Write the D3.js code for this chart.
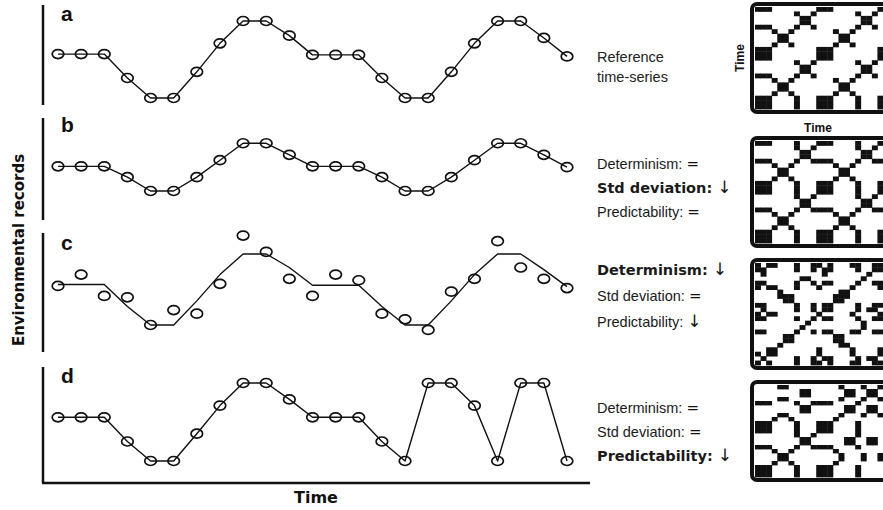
<!DOCTYPE html>
<html>
<head>
<meta charset="utf-8">
<script src="https://cdn.jsdelivr.net/npm/d3@7"></script>
<style>
  body { margin: 0; background: #fff; }
  svg { display: block; }
</style>
</head>
<body>
<div id="chart"></div>
<script>
// values, in arbitrary "record" units (low plateau = 0, high plateau = 10)
const steps = d3.range(23);
const seriesA = [5.7, 5.7, 5.7, 2.6, 0, 0, 3.4, 7.1, 10, 10, 8.1, 5.6, 5.6, 5.6, 2.6, 0, 0, 3.4, 7.1, 10, 10, 7.8, 5.4];
const seriesB = [3.2, 3.2, 3.2, 1.8, 0, 0, 1.8, 4.0, 6.2, 6.2, 4.7, 3.2, 3.2, 3.2, 1.8, 0, 0, 1.8, 4.0, 6.2, 6.2, 4.7, 3.1];
const seriesC = [5.5, 7.1, 4.1, 3.9, 0, 2.1, 1.6, 5.8, 12.6, 10.3, 6.5, 4.1, 7.1, 6.3, 1.6, 0.8, -0.7, 4.7, 6.5, 11.8, 8.1, 6.5, 5.2];
const seriesD = [5.6, 5.6, 5.6, 2.5, 0, 0, 3.5, 7.1, 10, 10, 7.9, 5.6, 5.6, 5.6, 2.5, 0, 10, 10, 7.1, 0, 10, 10, 0];

const panelLabels = ["a", "b", "c", "d"];
const measureNames = ["Determinism:", "Std deviation:", "Predictability:"];
const changesB = ["=", "\u2193", "="];
const changesC = ["\u2193", "=", "\u2193"];
const changesD = ["=", "=", "\u2193"];
const referenceNote = ["Reference", "time-series"];

const width = 883;
const height = 510;
const REG = "'Liberation Sans', Arial, sans-serif";
const HEAVY = "'DejaVu Sans', 'Liberation Sans', sans-serif";

const svg = d3.select("#chart").append("svg")
  .attr("width", width)
  .attr("height", height);

const x = d3.scaleLinear().domain([0, 22]).range([58, 567]);

// layout of the four rows (pixels), the data stays in the arrays above
const panels = [
  { label: panelLabels[0], values: seriesA, line: seriesA, y0: 98, y10: 21, axis: [5, 105], labelY: 21, rp: [4, 112] },
  { label: panelLabels[1], values: seriesB, line: seriesB, y0: 191, y10: 114, axis: [118, 220], labelY: 132, rp: [138, 246] },
  { label: panelLabels[2], values: seriesC, line: seriesA, y0: 325, y10: 254, axis: [233, 352], labelY: 250, rp: [260, 368] },
  { label: panelLabels[3], values: seriesD, line: seriesD, y0: 461, y10: 383, axis: [367, 483], labelY: 383, rp: [382, 480] }
];

const defs = svg.append("defs");

panels.forEach((p, k) => {
  const y = d3.scaleLinear().domain([0, 10]).range([p.y0, p.y10]);
  const g = svg.append("g");

  // left axis segment
  g.append("line")
    .attr("x1", 43).attr("x2", 43)
    .attr("y1", p.axis[0]).attr("y2", p.axis[1])
    .attr("stroke", "#111")
    .attr("stroke-width", 2.5);

  g.append("text")
    .attr("x", 61)
    .attr("y", p.labelY)
    .attr("font-family", REG)
    .attr("font-weight", "bold")
    .attr("font-size", 21)
    .attr("fill", "#111")
    .text(p.label);

  const line = d3.line()
    .x((d, i) => x(steps[i]))
    .y(d => y(d));

  g.append("path")
    .datum(p.line)
    .attr("fill", "none")
    .attr("stroke", "#111")
    .attr("stroke-width", 1.4)
    .attr("stroke-linejoin", "round")
    .attr("d", line);

  g.selectAll("ellipse")
    .data(p.values)
    .enter()
    .append("ellipse")
    .attr("cx", (d, i) => x(steps[i]))
    .attr("cy", d => y(d))
    .attr("rx", 5.8)
    .attr("ry", 4.5)
    .attr("fill", "none")
    .attr("stroke", "#111")
    .attr("stroke-width", 1.7);

  // recurrence plot: |xi - xj| under a threshold set from the series spread
  const eps = 0.45 * d3.deviation(p.values);
  const cells = [];
  p.values.forEach((vi, i) => {
    p.values.forEach((vj, j) => {
      if (Math.abs(vi - vj) <= eps) cells.push({ i, j });
    });
  });

  const rx = d3.scaleBand().domain(steps).range([755, 883]);
  const ry = d3.scaleBand().domain(steps).range([p.rp[1] - 3, p.rp[0] + 3]);

  const clipId = "rpclip" + k;
  defs.append("clipPath").attr("id", clipId)
    .append("rect")
    .attr("x", 752).attr("y", p.rp[0])
    .attr("width", 160).attr("height", p.rp[1] - p.rp[0])
    .attr("rx", 5);

  const rp = svg.append("g").attr("clip-path", `url(#${clipId})`);
  rp.append("rect")
    .attr("x", 752).attr("y", p.rp[0])
    .attr("width", 160).attr("height", p.rp[1] - p.rp[0])
    .attr("fill", "#fff");

  rp.selectAll("rect.cell")
    .data(cells)
    .enter()
    .append("rect")
    .attr("class", "cell")
    .attr("x", d => rx(d.i))
    .attr("y", d => ry(d.j))
    .attr("width", rx.bandwidth() + 0.4)
    .attr("height", ry.bandwidth() + 0.4)
    .attr("fill", "#111");

  svg.append("rect")
    .attr("x", 752).attr("y", p.rp[0])
    .attr("width", 160).attr("height", p.rp[1] - p.rp[0])
    .attr("rx", 5)
    .attr("fill", "none")
    .attr("stroke", "#111")
    .attr("stroke-width", 4);
});

// bottom axis
svg.append("line")
  .attr("x1", 42).attr("x2", 590)
  .attr("y1", 483).attr("y2", 483)
  .attr("stroke", "#111")
  .attr("stroke-width", 2.5);

svg.append("text")
  .attr("x", 316).attr("y", 503)
  .attr("text-anchor", "middle")
  .attr("font-family", HEAVY)
  .attr("font-weight", "bold")
  .attr("font-size", 16)
  .attr("fill", "#111")
  .text("Time");

svg.append("text")
  .attr("transform", "translate(24,250) rotate(-90)")
  .attr("text-anchor", "middle")
  .attr("font-family", HEAVY)
  .attr("font-weight", "bold")
  .attr("font-size", 15)
  .attr("fill", "#111")
  .text("Environmental records");

// small axis names of the recurrence plot
svg.append("text")
  .attr("transform", "translate(744,58) rotate(-90)")
  .attr("text-anchor", "middle")
  .attr("font-family", REG)
  .attr("font-weight", "bold")
  .attr("font-size", 12)
  .attr("fill", "#111")
  .text("Time");

svg.append("text")
  .attr("x", 818).attr("y", 132)
  .attr("text-anchor", "middle")
  .attr("font-family", REG)
  .attr("font-weight", "bold")
  .attr("font-size", 12)
  .attr("fill", "#111")
  .text("Time");

// notes
svg.selectAll("text.ref")
  .data(referenceNote)
  .enter()
  .append("text")
  .attr("class", "ref")
  .attr("x", 597)
  .attr("y", (d, i) => 62 + i * 20)
  .attr("font-family", REG)
  .attr("font-size", 14.5)
  .attr("fill", "#222")
  .text(d => d);

const noteBlocks = [
  { changes: changesB, bold: 1, y: 169, gap: 24 },
  { changes: changesC, bold: 0, y: 275, gap: 26 },
  { changes: changesD, bold: 2, y: 413, gap: 24 }
];

noteBlocks.forEach(b => {
  measureNames.forEach((name, i) => {
    const t = svg.append("text")
      .attr("x", 597)
      .attr("y", b.y + i * b.gap)
      .attr("fill", "#1a1a1a");
    t.append("tspan")
      .attr("font-family", i === b.bold ? HEAVY : REG)
      .attr("font-weight", i === b.bold ? "bold" : "normal")
      .attr("font-size", 14.5)
      .text(name + " ");
    t.append("tspan")
      .attr("font-family", "'DejaVu Sans', sans-serif")
      .attr("font-weight", "normal")
      .attr("fill", "#111")
      .attr("font-size", b.changes[i] === "=" ? 15 : 17)
      .text(b.changes[i]);
  });
});
</script>
</body>
</html>
